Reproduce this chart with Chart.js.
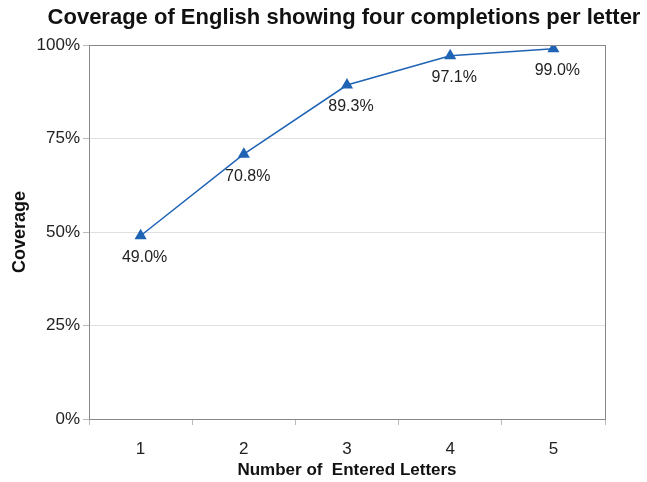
<!DOCTYPE html>
<html><head><meta charset="utf-8">
<script src="https://cdn.jsdelivr.net/npm/chart.js@4"></script>
<style>html,body{margin:0;padding:0;background:#fff}#wrap{width:647px;height:482px}</style>
</head><body><div id="wrap"><canvas id="c" width="647" height="482"></canvas></div>
<script>
const categories = ["1","2","3","4","5"];
const coverage = [49.0, 70.8, 89.3, 97.1, 99.0];
const yTicks = [0, 25, 50, 75, 100];
const titleText = "Coverage of English showing four completions per letter";
const xTitle = "Number of  Entered Letters";
const yTitle = "Coverage";

const FONT = "'Liberation Sans', Arial, sans-serif";

const labelPlugin = {
  id: 'lbls',
  afterDatasetsDraw(chart) {
    const ctx = chart.ctx;
    const meta = chart.getDatasetMeta(0);
    ctx.save();
    ctx.font = "16px " + FONT;
    ctx.fillStyle = "#222";
    ctx.textAlign = "center";
    ctx.textBaseline = "middle";
    meta.data.forEach((pt, i) => {
      ctx.fillText(coverage[i].toFixed(1) + "%", pt.x + 4, pt.y + 22);
    });
    ctx.restore();
  },
  afterDraw(chart) {
    const ctx = chart.ctx;
    const a = chart.chartArea;
    ctx.save();
    ctx.font = "bold 22px " + FONT;
    ctx.fillStyle = "#111";
    ctx.textAlign = "center";
    ctx.textBaseline = "middle";
    ctx.fillText(titleText, 344, 18);
    ctx.strokeStyle = "#888";
    ctx.lineWidth = 1;
    ctx.strokeRect(Math.round(a.left) + 0.5, Math.round(a.top) + 0.5, Math.round(a.right - a.left), Math.round(a.bottom - a.top));
    ctx.restore();
  }
};

new Chart(document.getElementById('c'), {
  type: 'line',
  data: {
    labels: categories,
    datasets: [{
      data: coverage,
      borderColor: '#1f63b5',
      backgroundColor: '#1f63b5',
      borderWidth: 1.5,
      pointStyle: 'triangle',
      pointRadius: 5.5,
      pointHoverRadius: 5.5,
      tension: 0,
      fill: false
    }]
  },
  options: {
    responsive: false,
    animation: false,
    events: [],
    layout: { padding: { top: 45, right: 42, left: 0, bottom: 0 } },
    plugins: { legend: { display: false }, title: { display: false }, tooltip: { enabled: false } },
    scales: {
      x: {
        offset: true,
        grid: { offset: true, display: true, drawOnChartArea: false, color: '#bbb', tickLength: 6, tickWidth: 1 },
        border: { display: true, color: '#888' },
        ticks: { font: { family: FONT, size: 17 }, color: '#222', padding: 14 },
        title: { display: true, text: xTitle, font: { family: FONT, size: 17, weight: 'bold' }, color: '#111', padding: { top: 2, bottom: 1 } },
        afterFit(s) { s.height = 63; }
      },
      y: {
        min: 0, max: 100,
        afterBuildTicks(s) { s.ticks = yTicks.map(v => ({ value: v })); },
        grid: { color: '#e0e0e0', tickColor: '#bbb', tickLength: 6 },
        border: { display: true, color: '#888' },
        ticks: { font: { family: FONT, size: 17 }, color: '#222', padding: 3, callback: v => v + '%' },
        title: { display: true, text: yTitle, font: { family: FONT, size: 18, weight: 'bold' }, color: '#111', padding: { top: 9, bottom: 4 } },
        afterFit(s) { s.width = 89; }
      }
    }
  },
  plugins: [labelPlugin]
});
</script></body></html>
